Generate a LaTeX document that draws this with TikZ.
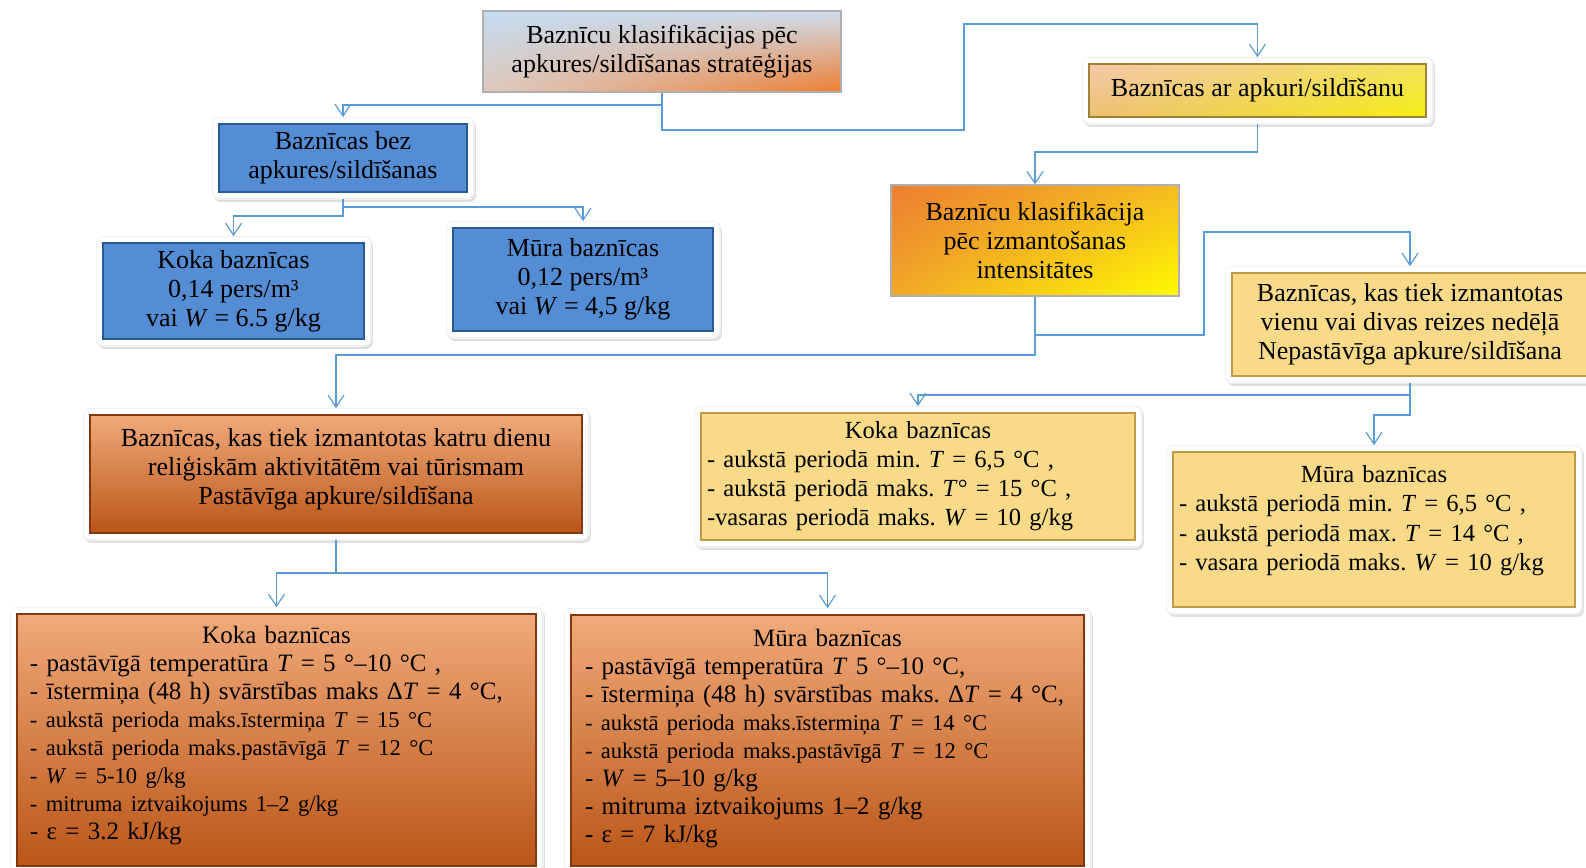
\documentclass[tikz,border=0pt]{standalone}
\usepackage{fontspec}
\setmainfont{Liberation Serif}
\usetikzlibrary{arrows.meta,shadings}
\frenchspacing

\definecolor{linkblue}{RGB}{91,155,213}
\definecolor{boxblue}{RGB}{84,141,212}
\definecolor{boxbluedark}{RGB}{40,90,150}
\definecolor{boxyellow}{RGB}{248,218,136}
\definecolor{boxyellowdark}{RGB}{190,155,70}
\definecolor{orangetop}{RGB}{240,170,122}
\definecolor{orangemid}{RGB}{230,124,50}
\definecolor{orangebot}{RGB}{186,86,24}
\definecolor{orangedark}{RGB}{130,55,15}
\definecolor{paleblue}{RGB}{196,219,240}
\definecolor{paleblueb}{RGB}{208,222,238}
\definecolor{palemix}{RGB}{222,202,190}
\definecolor{hotorange}{RGB}{237,125,49}
\definecolor{ambera}{RGB}{244,188,32}
\definecolor{amberb}{RGB}{240,168,40}
\definecolor{brightyellow}{RGB}{255,250,0}
\definecolor{peach}{RGB}{245,200,170}
\definecolor{peachb}{RGB}{236,192,112}
\definecolor{lemon}{RGB}{242,226,92}
\definecolor{lemonb}{RGB}{245,238,20}
\definecolor{olivedark}{RGB}{160,130,55}
\definecolor{edgegray}{RGB}{175,175,175}

\newcommand{\boxhead}[1]{\noindent\makebox[\hsize]{#1}}
\newcommand{\boxtail}[1]{\par\vspace{#1}\hrule height 0pt}

\begin{document}
\begin{tikzpicture}[x=0.5pt, y=-0.5pt, align=center,
  font=\fontsize{13}{14.5}\selectfont,
  link/.style={draw=linkblue, line width=0.7pt, -{Straight Barb[length=6pt,width=8pt,line width=0.6pt]}},
  framed/.style={preaction={draw=black!13, fill=black!13, line width=7pt, line join=round, transform canvas={xshift=1pt, yshift=-1.5pt}},
    preaction={draw=black!6, line width=7.5pt, line join=round},
    preaction={draw=white, line width=6pt, line join=round}},
  topbox/.style={draw=edgegray, line width=0.6pt, upper left=paleblue, upper right=paleblueb, lower left=palemix, lower right=hotorange},
  usagebox/.style={draw=edgegray, line width=0.6pt, upper left=hotorange, upper right=ambera, lower left=amberb, lower right=brightyellow},
  heatbox/.style={framed, draw=olivedark, line width=0.8pt, upper left=peach, upper right=lemon, lower left=peachb, lower right=lemonb},
  bluebox/.style={framed, fill=boxblue, draw=boxbluedark, line width=0.8pt},
  yellowbox/.style={framed, fill=boxyellow, draw=boxyellowdark, line width=0.8pt},
  orangebox/.style={framed, top color=orangetop, middle color=orangemid, bottom color=orangebot, draw=orangedark, line width=0.8pt},
  from frame/.style={shorten <=3pt},
  to frame/.style={shorten >=3pt}]

\useasboundingbox (0,0) rectangle (1586,868);

\node[topbox, minimum width=179pt, minimum height=40.5pt] (top) at (662,51.5) {Baznīcu klasifikācijas pēc\\apkures/sildīšanas stratēģijas};
\node[heatbox, minimum width=168.5pt, minimum height=26.5pt] (withheat) at (1257.5,90.5) {Baznīcas ar apkuri/sildīšanu};
\node[bluebox, minimum width=124pt, minimum height=34pt, inner ysep=1pt] (noheat) at (343,158) {Baznīcas bez\\apkures/sildīšanas};
\node[bluebox, minimum width=130.5pt, minimum height=48pt, inner ysep=1pt] (woodnh) at (233.5,291) {Koka baznīcas\\0,14 pers/m³\\vai \textit{W} = 6.5 g/kg};
\node[bluebox, minimum width=130pt, minimum height=51.5pt] (stonenh) at (583,279.5) {Mūra baznīcas\\0,12 pers/m³\\vai \textit{W} = 4,5 g/kg};
\node[usagebox, minimum width=144pt, minimum height=55.5pt] (usage) at (1035,240.5) {Baznīcu klasifikācija\\pēc izmantošanas\\intensitātes};
\node[yellowbox, minimum width=178pt, minimum height=51.5pt] (weekly) at (1410,324.5) {Baznīcas, kas tiek izmantotas\\vienu vai divas reizes nedēļā\\Nepastāvīga apkure/sildīšana};
\node[orangebox, minimum width=246pt, minimum height=59pt] (daily) at (336,474) {Baznīcas, kas tiek izmantotas katru dienu\\reliģiskām aktivitātēm vai tūrismam\\Pastāvīga apkure/sildīšana\\[-7pt]};
\node[yellowbox, align=left, text width=211pt, inner xsep=3pt, inner ysep=1pt, minimum height=63.5pt, font=\fontsize{12.3}{14.5}\selectfont] (woodw) at (918,476.5) {\boxhead{Koka baznīcas}\\
- aukstā periodā min. \textit{T} = 6,5 °C ,\\
- aukstā periodā maks. \textit{T}° = 15 °C ,\\
-vasaras periodā maks. \textit{W} = 10 g/kg};
\node[yellowbox, align=left, text width=195pt, inner xsep=3pt, minimum height=77.5pt, font=\fontsize{12.3}{14.7}\selectfont] (stonew) at (1374,529.5) {\boxhead{Mūra baznīcas}\\
- aukstā periodā min. \textit{T} = 6,5 °C ,\\
- aukstā periodā max. \textit{T} = 14 °C ,\\
- vasara periodā maks. \textit{W} = 10 g/kg\boxtail{9pt}};
\node[orangebox, align=left, text width=246.5pt, inner xsep=6.5pt, minimum height=126pt, font=\fontsize{12.5}{14}\selectfont] (woodd) at (276.5,740) {\boxhead{Koka baznīcas}\\
- pastāvīgā temperatūra \textit{T} = 5 °–10 °C ,\\
- īstermiņa (48 h) svārstības maks Δ\textit{T} = 4 °C,\\
{\fontsize{11.3}{14}\selectfont - aukstā perioda maks.īstermiņa \textit{T} = 15 °C}\\
{\fontsize{11.3}{14}\selectfont - aukstā perioda maks.pastāvīgā \textit{T} = 12 °C}\\
{\fontsize{11.3}{14}\selectfont - \textit{W} = 5-10 g/kg}\\
{\fontsize{11.3}{14}\selectfont - mitruma iztvaikojums 1–2 g/kg}\\
- ε = 3.2 kJ/kg\boxtail{4pt}};
\node[orangebox, align=left, text width=242.5pt, inner xsep=7pt, minimum height=125.5pt, font=\fontsize{12.5}{14}\selectfont] (stoned) at (827.5,740.5) {\boxhead{Mūra baznīcas}\\
- pastāvīgā temperatūra \textit{T} 5 °–10 °C,\\
- īstermiņa (48 h) svārstības maks. Δ\textit{T} = 4 °C,\\
{\fontsize{11.3}{14}\selectfont - aukstā perioda maks.īstermiņa \textit{T} = 14 °C}\\
{\fontsize{11.3}{14}\selectfont - aukstā perioda maks.pastāvīgā \textit{T} = 12 °C}\\
- \textit{W} = 5–10 g/kg\\
- mitruma iztvaikojums 1–2 g/kg\\
- ε = 7 kJ/kg\boxtail{2pt}};

\draw[link, to frame] (top.south) -- (662,105) -| (noheat.north);
\draw[link, to frame] (top.south) |- (964,130) -- (964,24) -| (withheat.north);
\draw[link, from frame] (withheat.south) -- (1257.5,152) -| (usage.north);
\draw[link, to frame] (usage.south) |- (1204,335) -- (1204,232) -| (weekly.north);
\draw[link, to frame] (usage.south) -- (1035,355) -| (daily.north);
\draw[link, from frame, to frame] (noheat.south) -- (343,216) -| (woodnh.north);
\draw[link, from frame, to frame] (noheat.south) -- (343,207) -| (stonenh.north);
\draw[link, from frame, to frame] (weekly.south) -- (1410,395) -| (woodw.north);
\draw[link, from frame, to frame] (weekly.south) -- (1410,415) -| (stonew.north);
\draw[link, from frame, to frame] (daily.south) -- (336,573) -| (woodd.north);
\draw[link, from frame, to frame] (daily.south) -- (336,573) -| (stoned.north);

\end{tikzpicture}
\end{document}
